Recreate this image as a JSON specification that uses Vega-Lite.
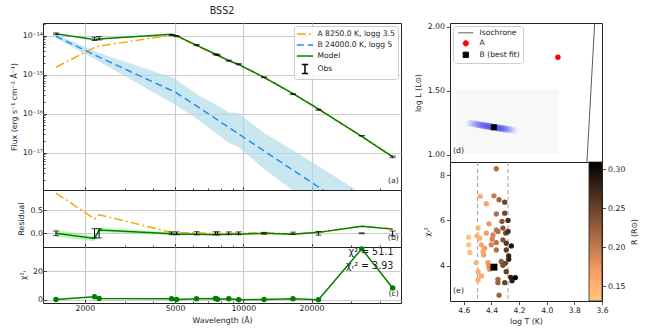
{
  "$schema": "https://vega.github.io/schema/vega-lite/v6.json",
  "padding": {"left": 9, "top": 5, "right": 0, "bottom": 0},
  "config": {
    "font": "DejaVu Sans",
    "view": {"stroke": "#222222", "strokeWidth": 1},
    "axis": {"labelFont": "DejaVu Sans", "titleFont": "DejaVu Sans", "labelFontSize": 7.8, "titleFontSize": 7.8, "titleFontWeight": "normal", "labelColor": "#222222", "titleColor": "#222222", "tickColor": "#222222", "tickWidth": 0.8, "domain": false, "grid": false, "labelOverlap": false, "labelFlush": false},
    "legend": {"labelFont": "DejaVu Sans", "titleFont": "DejaVu Sans", "labelColor": "#222222"},
    "text": {"font": "DejaVu Sans"},
    "title": {"font": "DejaVu Sans"}
  },
  "datasets": {
    "sed": [
      {"lam": 1491, "obs": 1.11e-14, "lo": 1.055e-14, "hi": 1.166e-14, "Model": 1.11e-14, "A": 1.54e-15, "B": 9.6e-15, "bLo": 8.6e-15, "bHi": 1.07e-14, "resM": 0.0, "resA": 0.87, "rLo": -0.05, "rHi": 0.05, "gLo": -0.07, "gHi": 0.07, "chi2": 0.3},
      {"lam": 2206, "obs": 8.3e-15, "lo": 7.47e-15, "hi": 9.13e-15, "Model": 7.9e-15, "A": 4.98e-15, "B": 3.2e-15, "bLo": 2.5e-15, "bHi": 4.0e-15, "resM": -0.11, "resA": 0.31, "rLo": -0.1, "rHi": 0.1, "gLo": -0.17, "gHi": -0.06, "chi2": 2.3},
      {"lam": 2312, "obs": 8.6e-15, "lo": 7.74e-15, "hi": 9.46e-15, "Model": 8.2e-15, "A": 5.35e-15, "B": 2.8e-15, "bLo": 2.15e-15, "bHi": 3.6e-15, "resM": 0.07, "resA": 0.40, "rLo": -0.1, "rHi": 0.1, "gLo": 0.02, "gHi": 0.12, "chi2": 1.1},
      {"lam": 4829, "obs": 1.03e-14, "lo": 9.99e-15, "hi": 1.061e-14, "Model": 1.08e-14, "A": 1.04e-14, "B": 3.9e-16, "bLo": 1.9e-16, "bHi": 8.5e-16, "resM": -0.01, "resA": 0.02, "rLo": -0.03, "rHi": 0.03, "gLo": -0.04, "gHi": 0.02, "chi2": 0.8},
      {"lam": 5080, "obs": 9.7e-15, "lo": 9.41e-15, "hi": 9.99e-15, "Model": 9.9e-15, "A": 9.55e-15, "B": 3.37e-16, "bLo": 1.6e-16, "bHi": 7.3e-16, "resM": -0.02, "resA": 0.01, "rLo": -0.03, "rHi": 0.03, "gLo": -0.04, "gHi": 0.0, "chi2": 0.3},
      {"lam": 6220, "obs": 5.7e-15, "lo": 5.5e-15, "hi": 5.9e-15, "Model": 5.66e-15, "A": 5.5e-15, "B": 1.58e-16, "bLo": 7.5e-17, "bHi": 3.2e-16, "resM": -0.02, "resA": 0.01, "rLo": -0.035, "rHi": 0.035, "gLo": -0.035, "gHi": -0.005, "chi2": 0.9},
      {"lam": 7540, "obs": 3.3e-15, "lo": 3.2e-15, "hi": 3.4e-15, "Model": 3.34e-15, "A": 3.27e-15, "B": 7.45e-17, "bLo": 3.2e-17, "bHi": 1.7e-16, "resM": -0.03, "resA": -0.01, "rLo": -0.03, "rHi": 0.03, "gLo": -0.04, "gHi": -0.02, "chi2": 1.0},
      {"lam": 7695, "obs": 3.2e-15, "lo": 3.1e-15, "hi": 3.3e-15, "Model": 3.16e-15, "A": 3.09e-15, "B": 6.9e-17, "bLo": 2.9e-17, "bHi": 1.6e-16, "resM": -0.03, "resA": -0.01, "rLo": -0.03, "rHi": 0.03, "gLo": -0.04, "gHi": -0.02, "chi2": 0.5},
      {"lam": 8630, "obs": 2.28e-15, "lo": 2.21e-15, "hi": 2.35e-15, "Model": 2.28e-15, "A": 2.24e-15, "B": 4.42e-17, "bLo": 1.8e-17, "bHi": 1.08e-16, "resM": -0.02, "resA": 0.0, "rLo": -0.03, "rHi": 0.03, "gLo": -0.03, "gHi": -0.01, "chi2": 0.9},
      {"lam": 9546, "obs": 1.85e-15, "lo": 1.79e-15, "hi": 1.91e-15, "Model": 1.82e-15, "A": 1.79e-15, "B": 3.0e-17, "bLo": 1.38e-17, "bHi": 1.0e-16, "resM": -0.02, "resA": 0.0, "rLo": -0.03, "rHi": 0.03, "gLo": -0.03, "gHi": -0.01, "chi2": 0.2},
      {"lam": 12350, "obs": 8.5e-16, "lo": 8.33e-16, "hi": 8.67e-16, "Model": 8.5e-16, "A": 8.39e-16, "B": 1.1e-17, "bLo": 3.8e-18, "bHi": 3.2e-17, "resM": 0.0, "resA": 0.01, "rLo": -0.02, "rHi": 0.02, "gLo": -0.01, "gHi": 0.01, "chi2": 0.3},
      {"lam": 16560, "obs": 3.16e-16, "lo": 3.08e-16, "hi": 3.24e-16, "Model": 3.27e-16, "A": 3.23e-16, "B": 3.57e-18, "bLo": 1.07e-18, "bHi": 1.15e-17, "resM": -0.02, "resA": -0.01, "rLo": -0.025, "rHi": 0.025, "gLo": -0.03, "gHi": -0.01, "chi2": 0.8},
      {"lam": 21470, "obs": 1.26e-16, "lo": 1.21e-16, "hi": 1.31e-16, "Model": 1.31e-16, "A": 1.30e-16, "B": 1.31e-18, "bLo": 4e-19, "bHi": 4.5e-18, "resM": 0.02, "resA": 0.02, "rLo": -0.04, "rHi": 0.04, "gLo": 0.01, "gHi": 0.03, "chi2": 0.1},
      {"lam": 33320, "obs": 2.7e-17, "lo": 2.67e-17, "hi": 2.73e-17, "Model": 2.6e-17, "A": 2.6e-17, "B": 2.4e-19, "bLo": 6e-20, "bHi": 9e-19, "resM": 0.15, "resA": 0.155, "rLo": -0.01, "rHi": 0.01, "gLo": 0.14, "gHi": 0.16, "chi2": 35.6},
      {"lam": 45620, "obs": 7.8e-18, "lo": 7.41e-18, "hi": 8.19e-18, "Model": 7.8e-18, "A": 7.8e-18, "B": 7.2e-20, "bLo": 1.5e-20, "bHi": 3e-19, "resM": 0.09, "resA": 0.095, "rLo": -0.05, "rHi": 0.05, "gLo": 0.08, "gHi": 0.1, "chi2": 8.3}
    ],
    "smear": [
      {"T": 4.560, "L": 1.248, "density": 0.15}, {"T": 4.545, "L": 1.246, "density": 0.25}, {"T": 4.530, "L": 1.243, "density": 0.35},
      {"T": 4.515, "L": 1.240, "density": 0.45}, {"T": 4.500, "L": 1.237, "density": 0.55}, {"T": 4.485, "L": 1.234, "density": 0.65},
      {"T": 4.470, "L": 1.231, "density": 0.72}, {"T": 4.455, "L": 1.228, "density": 0.8}, {"T": 4.440, "L": 1.226, "density": 0.85},
      {"T": 4.425, "L": 1.223, "density": 0.92}, {"T": 4.410, "L": 1.220, "density": 0.97}, {"T": 4.395, "L": 1.217, "density": 1.0},
      {"T": 4.380, "L": 1.215, "density": 1.0}, {"T": 4.365, "L": 1.212, "density": 0.97}, {"T": 4.350, "L": 1.209, "density": 0.93},
      {"T": 4.335, "L": 1.207, "density": 0.87}, {"T": 4.320, "L": 1.205, "density": 0.8}, {"T": 4.305, "L": 1.202, "density": 0.68},
      {"T": 4.290, "L": 1.199, "density": 0.55}, {"T": 4.275, "L": 1.197, "density": 0.42}, {"T": 4.260, "L": 1.195, "density": 0.3},
      {"T": 4.245, "L": 1.193, "density": 0.2}, {"T": 4.230, "L": 1.190, "density": 0.1}
    ],
    "mc": [
      {"T": 4.365, "chi": 8.29, "R": 0.21}, {"T": 4.481, "chi": 7.07, "R": 0.155}, {"T": 4.382, "chi": 7.09, "R": 0.20},
      {"T": 4.437, "chi": 6.74, "R": 0.165}, {"T": 4.345, "chi": 6.92, "R": 0.22}, {"T": 4.304, "chi": 6.81, "R": 0.25},
      {"T": 4.365, "chi": 6.29, "R": 0.21}, {"T": 4.304, "chi": 6.32, "R": 0.245}, {"T": 4.280, "chi": 6.00, "R": 0.27},
      {"T": 4.324, "chi": 5.96, "R": 0.235}, {"T": 4.497, "chi": 5.66, "R": 0.15}, {"T": 4.418, "chi": 5.85, "R": 0.175},
      {"T": 4.365, "chi": 5.58, "R": 0.20}, {"T": 4.317, "chi": 5.66, "R": 0.235}, {"T": 4.297, "chi": 5.44, "R": 0.25},
      {"T": 4.389, "chi": 5.36, "R": 0.19}, {"T": 4.437, "chi": 5.44, "R": 0.17}, {"T": 4.256, "chi": 4.87, "R": 0.29},
      {"T": 4.565, "chi": 5.26, "R": 0.135}, {"T": 4.565, "chi": 4.92, "R": 0.135}, {"T": 4.557, "chi": 4.58, "R": 0.14},
      {"T": 4.485, "chi": 5.21, "R": 0.155}, {"T": 4.473, "chi": 4.92, "R": 0.16}, {"T": 4.461, "chi": 4.62, "R": 0.165},
      {"T": 4.365, "chi": 5.02, "R": 0.205}, {"T": 4.365, "chi": 4.69, "R": 0.21}, {"T": 4.317, "chi": 5.14, "R": 0.235},
      {"T": 4.293, "chi": 4.69, "R": 0.255}, {"T": 4.275, "chi": 4.43, "R": 0.275}, {"T": 4.510, "chi": 4.13, "R": 0.15},
      {"T": 4.425, "chi": 4.13, "R": 0.175}, {"T": 4.497, "chi": 3.73, "R": 0.155}, {"T": 4.473, "chi": 3.54, "R": 0.16},
      {"T": 4.418, "chi": 3.96, "R": 0.18}, {"T": 4.329, "chi": 4.18, "R": 0.225}, {"T": 4.300, "chi": 4.10, "R": 0.245},
      {"T": 4.275, "chi": 4.28, "R": 0.28}, {"T": 4.293, "chi": 3.73, "R": 0.255}, {"T": 4.497, "chi": 3.36, "R": 0.155},
      {"T": 4.353, "chi": 3.39, "R": 0.215}, {"T": 4.353, "chi": 3.24, "R": 0.22}, {"T": 4.304, "chi": 3.24, "R": 0.25},
      {"T": 4.261, "chi": 3.48, "R": 0.28}, {"T": 4.251, "chi": 3.33, "R": 0.285}, {"T": 4.227, "chi": 3.47, "R": 0.305},
      {"T": 4.345, "chi": 2.69, "R": 0.22}, {"T": 4.401, "chi": 4.92, "R": 0.19}, {"T": 4.505, "chi": 5.32, "R": 0.15},
      {"T": 4.449, "chi": 4.77, "R": 0.17}, {"T": 4.293, "chi": 4.99, "R": 0.26}, {"T": 4.280, "chi": 5.51, "R": 0.27},
      {"T": 4.394, "chi": 5.17, "R": 0.19}, {"T": 4.353, "chi": 5.51, "R": 0.21}, {"T": 4.413, "chi": 3.84, "R": 0.18},
      {"T": 4.317, "chi": 4.01, "R": 0.24}, {"T": 4.456, "chi": 4.47, "R": 0.165}
    ]
  },
  "spacing": 11,
  "resolve": {
    "scale": {"color": "independent", "shape": "independent", "strokeDash": "independent", "opacity": "independent"},
    "legend": {"color": "independent", "shape": "independent", "strokeDash": "independent", "opacity": "independent"}
  },
  "hconcat": [
    {
      "spacing": 0,
      "bounds": "flush",
      "resolve": {
        "scale": {"color": "independent", "shape": "independent", "strokeDash": "independent", "opacity": "independent"},
        "legend": {"color": "independent", "shape": "independent", "strokeDash": "independent", "opacity": "independent"}
      },
      "vconcat": [
        {
          "width": 358,
          "height": 167,
          "title": {"text": "BSS2", "fontSize": 9.6, "fontWeight": "normal", "offset": 4, "color": "#222222"},
          "layer": [
            {
              "data": {"name": "sed"},
              "mark": {"type": "area", "color": "#add8e6", "opacity": 0.65, "clip": true},
              "encoding": {
                "x": {"field": "lam", "type": "quantitative", "scale": {"type": "log", "domain": [1307, 49650], "nice": false},
                  "axis": {"orient": "bottom", "values": [2000, 3000, 4000, 5000, 6000, 7000, 8000, 9000, 10000, 20000, 30000, 40000], "labels": false, "title": null, "grid": true, "gridColor": "#cccccc", "gridWidth": 1.2,
                    "gridOpacity": {"condition": {"test": "indexof([2000,5000,10000,20000], datum.value) >= 0", "value": 1}, "value": 0},
                    "tickSize": {"condition": {"test": "indexof([2000,5000,10000,20000], datum.value) >= 0", "value": -3.5}, "value": -2}}},
                "y": {"field": "bLo", "type": "quantitative", "scale": {"type": "log", "domain": [1.1e-18, 2.1e-14], "nice": false},
                  "axis": {"title": "Flux (erg s⁻¹ cm⁻² Å⁻¹)", "titlePadding": 4, "labelPadding": 4,
                    "values": [2e-18, 3e-18, 4e-18, 5e-18, 6e-18, 7e-18, 8e-18, 9e-18, 1e-17, 2e-17, 3e-17, 4e-17, 5e-17, 6e-17, 7e-17, 8e-17, 9e-17, 1e-16, 2e-16, 3e-16, 4e-16, 5e-16, 6e-16, 7e-16, 8e-16, 9e-16, 1e-15, 2e-15, 3e-15, 4e-15, 5e-15, 6e-15, 7e-15, 8e-15, 9e-15, 1e-14, 2e-14],
                    "labelExpr": "abs(log(datum.value)/LN10-round(log(datum.value)/LN10))<0.01 ? (round(log(datum.value)/LN10)==-14 ? '10⁻¹⁴' : round(log(datum.value)/LN10)==-15 ? '10⁻¹⁵' : round(log(datum.value)/LN10)==-16 ? '10⁻¹⁶' : round(log(datum.value)/LN10)==-17 ? '10⁻¹⁷' : '') : ''",
                    "grid": true, "gridColor": "#cccccc", "gridWidth": 1.2,
                    "gridOpacity": {"condition": {"test": "abs(log(datum.value)/LN10-round(log(datum.value)/LN10))<0.01", "value": 1}, "value": 0},
                    "tickSize": {"condition": {"test": "abs(log(datum.value)/LN10-round(log(datum.value)/LN10))<0.01", "value": -3.5}, "value": -2}}},
                "y2": {"field": "bHi"}
              }
            },
            {
              "data": {"name": "sed"},
              "transform": [{"fold": ["A", "B", "Model"], "as": ["series", "flux"]}],
              "mark": {"type": "line", "strokeWidth": 1.5, "clip": true},
              "encoding": {
                "x": {"field": "lam", "type": "quantitative"},
                "y": {"field": "flux", "type": "quantitative"},
                "color": {"field": "series", "type": "nominal",
                  "scale": {"domain": ["A", "B", "Model", "Obs"], "range": ["#ffa500", "#1e90ff", "#008000", "#000000"]},
                  "legend": {"title": null, "orient": "top-right", "offset": 3, "padding": 2.5, "fillColor": "rgba(255,255,255,0.85)", "strokeColor": "#cccccc", "cornerRadius": 3,
                    "labelFontSize": 7.6, "symbolSize": 81, "symbolStrokeWidth": 1.5, "rowPadding": 1, "labelOffset": 7, "symbolOffset": 3,
                    "labelExpr": "datum.label == 'A' ? 'A 8250.0 K, logg 3.5' : datum.label == 'B' ? 'B 24000.0 K, logg 5' : datum.label",
                    "encode": {"symbols": {"update": {"shape": {"signal": "datum.value === 'Obs' ? 'M-0.7,-1H0.7M0,-1V1M-0.7,1H0.7' : 'M-1.8,0H1.8'"}, "fill": {"value": "transparent"}}}}}
                },
                "strokeDash": {"field": "series", "type": "nominal",
                  "scale": {"domain": ["A", "B", "Model", "Obs"], "range": [[9, 3, 2, 3], [7, 4], [1, 0], [1, 0]]},
                  "legend": {"title": null, "orient": "top-right", "offset": 3, "padding": 2.5, "fillColor": "rgba(255,255,255,0.85)", "strokeColor": "#cccccc", "cornerRadius": 3,
                    "labelFontSize": 7.6, "symbolSize": 81, "symbolStrokeWidth": 1.5, "rowPadding": 1, "labelOffset": 7, "symbolOffset": 3,
                    "labelExpr": "datum.label == 'A' ? 'A 8250.0 K, logg 3.5' : datum.label == 'B' ? 'B 24000.0 K, logg 5' : datum.label",
                    "encode": {"symbols": {"update": {"shape": {"signal": "datum.value === 'Obs' ? 'M-0.7,-1H0.7M0,-1V1M-0.7,1H0.7' : 'M-1.8,0H1.8'"}, "fill": {"value": "transparent"}}}}}
                }
              }
            },
            {
              "data": {"name": "sed"},
              "mark": {"type": "rule", "color": "#000000", "strokeWidth": 1},
              "encoding": {"x": {"field": "lam", "type": "quantitative"}, "y": {"field": "lo", "type": "quantitative"}, "y2": {"field": "hi"}}
            },
            {
              "data": {"name": "sed"},
              "mark": {"type": "tick", "orient": "horizontal", "color": "#000000", "size": 6, "thickness": 1},
              "encoding": {"x": {"field": "lam", "type": "quantitative"}, "y": {"field": "lo", "type": "quantitative"}}
            },
            {
              "data": {"name": "sed"},
              "mark": {"type": "tick", "orient": "horizontal", "color": "#000000", "size": 6, "thickness": 1},
              "encoding": {"x": {"field": "lam", "type": "quantitative"}, "y": {"field": "hi", "type": "quantitative"}}
            },
            {
              "data": {"values": [{"lam": 48600, "f": 1.84e-18, "t": "(a)"}]},
              "mark": {"type": "text", "align": "right", "baseline": "middle", "fontSize": 7.8, "color": "#222222"},
              "encoding": {"x": {"field": "lam", "type": "quantitative"}, "y": {"field": "f", "type": "quantitative"}, "text": {"field": "t"}}
            }
          ]
        },
        {
          "width": 358,
          "height": 57,
          "layer": [
            {
              "data": {"name": "sed"},
              "mark": {"type": "area", "color": "#90ee90", "opacity": 0.6},
              "encoding": {
                "x": {"field": "lam", "type": "quantitative", "scale": {"type": "log", "domain": [1307, 49650], "nice": false},
                  "axis": {"orient": "bottom", "values": [2000, 3000, 4000, 5000, 6000, 7000, 8000, 9000, 10000, 20000, 30000, 40000], "labels": false, "title": null, "grid": true, "gridColor": "#cccccc", "gridWidth": 1.2,
                    "gridOpacity": {"condition": {"test": "indexof([2000,5000,10000,20000], datum.value) >= 0", "value": 1}, "value": 0},
                    "tickSize": {"condition": {"test": "indexof([2000,5000,10000,20000], datum.value) >= 0", "value": -3.5}, "value": -2}}},
                "y": {"field": "gLo", "type": "quantitative", "scale": {"domain": [-0.296, 0.935], "nice": false, "zero": false},
                  "axis": {"values": [0, 0.5], "format": ".1f", "title": "Residual", "grid": true, "gridColor": "#cccccc", "gridWidth": 1.2, "tickSize": -3.5, "labelPadding": 4, "titlePadding": 5}},
                "y2": {"field": "gHi"}
              }
            },
            {
              "data": {"name": "sed"},
              "mark": {"type": "line", "color": "#ffa500", "strokeWidth": 1.5, "strokeDash": [9, 3, 2, 3]},
              "encoding": {"x": {"field": "lam", "type": "quantitative"}, "y": {"field": "resA", "type": "quantitative"}}
            },
            {
              "data": {"name": "sed"},
              "mark": {"type": "line", "color": "#008000", "strokeWidth": 1.5},
              "encoding": {"x": {"field": "lam", "type": "quantitative"}, "y": {"field": "resM", "type": "quantitative"}}
            },
            {
              "data": {"name": "sed"},
              "mark": {"type": "rule", "color": "#000000", "strokeWidth": 1},
              "encoding": {"x": {"field": "lam", "type": "quantitative"}, "y": {"field": "rLo", "type": "quantitative"}, "y2": {"field": "rHi"}}
            },
            {
              "data": {"name": "sed"},
              "mark": {"type": "tick", "orient": "horizontal", "color": "#000000", "size": 6, "thickness": 1},
              "encoding": {"x": {"field": "lam", "type": "quantitative"}, "y": {"field": "rLo", "type": "quantitative"}}
            },
            {
              "data": {"name": "sed"},
              "mark": {"type": "tick", "orient": "horizontal", "color": "#000000", "size": 6, "thickness": 1},
              "encoding": {"x": {"field": "lam", "type": "quantitative"}, "y": {"field": "rHi", "type": "quantitative"}}
            },
            {
              "data": {"values": [{"lam": 48600, "v": -0.1, "t": "(b)"}]},
              "mark": {"type": "text", "align": "right", "baseline": "middle", "fontSize": 7.8, "color": "#222222"},
              "encoding": {"x": {"field": "lam", "type": "quantitative"}, "y": {"field": "v", "type": "quantitative"}, "text": {"field": "t"}}
            }
          ]
        },
        {
          "width": 358,
          "height": 56,
          "layer": [
            {
              "data": {"name": "sed"},
              "mark": {"type": "line", "color": "#008000", "strokeWidth": 1.5},
              "encoding": {
                "x": {"field": "lam", "type": "quantitative", "scale": {"type": "log", "domain": [1307, 49650], "nice": false},
                  "axis": {"orient": "bottom", "values": [2000, 3000, 4000, 5000, 6000, 7000, 8000, 9000, 10000, 20000, 30000, 40000], "title": "Wavelength (Å)", "titlePadding": 3, "labelPadding": 5,
                    "labelExpr": "indexof([2000,5000,10000,20000], datum.value) >= 0 ? format(datum.value, 'd') : ''",
                    "grid": true, "gridColor": "#cccccc", "gridWidth": 1.2,
                    "gridOpacity": {"condition": {"test": "indexof([2000,5000,10000,20000], datum.value) >= 0", "value": 1}, "value": 0},
                    "tickSize": {"condition": {"test": "indexof([2000,5000,10000,20000], datum.value) >= 0", "value": -3.5}, "value": -2}}},
                "y": {"field": "chi2", "type": "quantitative", "scale": {"domain": [-2.1, 36.9], "nice": false, "zero": false},
                  "axis": {"values": [0, 20], "title": "χ²ᵢ", "grid": true, "gridColor": "#cccccc", "gridWidth": 1.2, "tickSize": -3.5, "labelPadding": 4, "titlePadding": 5}}
              }
            },
            {
              "data": {"name": "sed"},
              "mark": {"type": "circle", "color": "#008000", "size": 30, "opacity": 1},
              "encoding": {"x": {"field": "lam", "type": "quantitative"}, "y": {"field": "chi2", "type": "quantitative"}}
            },
            {
              "data": {"values": [{"lam": 46000, "v": 33.3, "t": "χ² = 51.1"}, {"lam": 46000, "v": 23.7, "t": "χᵣ² = 3.93"}, {"lam": 48600, "v": 4.1, "t": "(c)"}]},
              "mark": {"type": "text", "align": "right", "baseline": "middle", "color": "#222222"},
              "encoding": {"x": {"field": "lam", "type": "quantitative"}, "y": {"field": "v", "type": "quantitative"}, "text": {"field": "t"},
                "size": {"condition": {"test": "datum.t == '(c)'", "value": 7.8}, "value": 9.6}}
            }
          ]
        }
      ]
    },
    {
      "spacing": 0,
      "bounds": "flush",
      "resolve": {
        "scale": {"x": "independent", "color": "independent", "shape": "independent", "strokeDash": "independent", "opacity": "independent"},
        "axis": {"x": "independent"},
        "legend": {"color": "independent", "shape": "independent", "strokeDash": "independent", "opacity": "independent"}
      },
      "vconcat": [
        {
          "width": 152,
          "height": 139,
          "title": {"text": " ", "fontSize": 9.6, "fontWeight": "normal", "offset": 4},
          "layer": [
            {
              "data": {"values": [{"T1": 4.66, "T2": 3.91, "L1": 1.0, "L2": 1.51}]},
              "mark": {"type": "rect", "color": "#f8f8f8"},
              "encoding": {
                "x": {"field": "T1", "type": "quantitative", "scale": {"domain": [3.6, 4.7], "reverse": true, "nice": false, "zero": false}, "axis": null},
                "x2": {"field": "T2"},
                "y": {"field": "L1", "type": "quantitative", "scale": {"domain": [0.943, 2.031], "nice": false, "zero": false},
                  "axis": {"values": [1.0, 1.25, 1.5, 1.75, 2.0], "format": ".2f", "title": "log L (L⊙)", "tickSize": 3.5, "labelPadding": 2, "titlePadding": 5, "labelOverlap": false}},
                "y2": {"field": "L2"}
              }
            },
            {
              "data": {"name": "smear"},
              "mark": {"type": "circle", "color": "#1212ee", "size": 50},
              "encoding": {
                "x": {"field": "T", "type": "quantitative"},
                "y": {"field": "L", "type": "quantitative"},
                "opacity": {"field": "density", "type": "quantitative", "scale": {"domain": [0, 1], "range": [0, 0.33]}, "legend": null}
              }
            },
            {
              "data": {"values": [{"T": 3.6494, "L": 2.1, "kind": "Isochrone"}, {"T": 3.7112, "L": 0.9, "kind": "Isochrone"}]},
              "mark": {"type": "line", "strokeWidth": 0.9, "clip": true},
              "encoding": {
                "x": {"field": "T", "type": "quantitative"},
                "y": {"field": "L", "type": "quantitative"},
                "color": {"field": "kind", "type": "nominal", "scale": {"domain": ["Isochrone", "A", "B (best fit)"], "range": ["#444444", "#ff0000", "#000000"]},
                  "legend": {"title": null, "orient": "top-left", "offset": 3, "padding": 3, "fillColor": "rgba(255,255,255,0.85)", "strokeColor": "#cccccc", "cornerRadius": 3, "labelFontSize": 7.6, "symbolSize": 28, "rowPadding": 1.5, "labelOffset": 10, "symbolOffset": 6,
                    "encode": {"symbols": {"update": {"shape": {"signal": "datum.value === 'Isochrone' ? 'M-2.8,0H2.8' : datum.value === 'A' ? 'circle' : 'square'"}, "stroke": {"signal": "datum.value === 'Isochrone' ? '#444444' : 'transparent'"}, "strokeWidth": {"value": 1}, "strokeDash": {"value": [1, 0]}, "fill": {"signal": "datum.value === 'Isochrone' ? 'transparent' : datum.value === 'A' ? '#ff0000' : '#000000'"}, "opacity": {"value": 1}}}}}
                }
              }
            },
            {
              "data": {"values": [{"T": 3.919, "L": 1.763}]},
              "mark": {"type": "circle", "size": 30, "opacity": 1, "color": "#ff0000"},
              "encoding": {"x": {"field": "T", "type": "quantitative"}, "y": {"field": "L", "type": "quantitative"}}
            },
            {
              "data": {"values": [{"T": 4.382, "L": 1.215}]},
              "mark": {"type": "square", "size": 34, "opacity": 1, "color": "#000000"},
              "encoding": {"x": {"field": "T", "type": "quantitative"}, "y": {"field": "L", "type": "quantitative"}}
            },
            {
              "data": {"values": [{"T": 4.678, "L": 1.027, "t": "(d)"}]},
              "mark": {"type": "text", "align": "left", "baseline": "middle", "fontSize": 7.8, "color": "#222222"},
              "encoding": {"x": {"field": "T", "type": "quantitative"}, "y": {"field": "L", "type": "quantitative"}, "text": {"field": "t"}}
            }
          ]
        },
        {
          "width": 152,
          "height": 139,
          "resolve": {"scale": {"y": "independent"}, "axis": {"y": "independent"}},
          "layer": [
            {
              "layer": [
                {
                  "data": {"values": [{"T": 4.5}, {"T": 4.28}]},
                  "mark": {"type": "rule", "color": "#a0a0a0", "strokeDash": [4, 3], "strokeWidth": 1},
                  "encoding": {
                    "x": {"field": "T", "type": "quantitative", "scale": {"domain": [3.6, 4.7], "reverse": true, "nice": false, "zero": false},
                      "axis": {"tickCount": 6, "format": ".1f", "title": "log T (K)", "tickSize": 3.5, "labelPadding": 2, "titlePadding": 3, "labelOverlap": false, "labelSeparation": 0, "labelFlush": false, "labelBound": false, "labelFontSize": 7.6}}
                  }
                },
                {
                  "data": {"name": "mc"},
                  "mark": {"type": "circle", "size": 28, "opacity": 1},
                  "encoding": {
                    "x": {"field": "T", "type": "quantitative"},
                    "y": {"field": "chi", "type": "quantitative", "scale": {"domain": [2.43, 8.59], "nice": false, "zero": false},
                      "axis": {"values": [4, 6, 8], "title": "χᵣ²", "tickSize": 3.5, "labelPadding": 2, "titlePadding": 8, "labelOverlap": false}},
                    "color": {"field": "R", "type": "quantitative", "scale": {"domain": [0.131, 0.1666, 0.309], "range": ["#ffc77f", "#ff9f65", "#000000"], "interpolate": "rgb"},
                      "legend": {"orient": "none", "legendX": 139, "legendY": 0, "direction": "vertical", "gradientLength": 139, "gradientThickness": 13, "title": null, "labelExpr": "''", "gradientStrokeColor": "#222222", "gradientStrokeWidth": 0.8, "padding": 0}
                    }
                  }
                },
                {
                  "data": {"values": [{"T": 4.382, "chi": 3.93}]},
                  "mark": {"type": "square", "color": "#000000", "size": 48, "opacity": 1},
                  "encoding": {"x": {"field": "T", "type": "quantitative"}, "y": {"field": "chi", "type": "quantitative"}}
                },
                {
                  "data": {"values": [{"T": 4.678, "chi": 2.87, "t": "(e)"}]},
                  "mark": {"type": "text", "align": "left", "baseline": "middle", "fontSize": 7.8, "color": "#222222"},
                  "encoding": {"x": {"field": "T", "type": "quantitative"}, "y": {"field": "chi", "type": "quantitative"}, "text": {"field": "t"}}
                }
              ]
            },
            {
              "data": {"name": "mc"},
              "mark": {"type": "point", "opacity": 0},
              "encoding": {
                "x": {"field": "T", "type": "quantitative"},
                "y": {"field": "R", "type": "quantitative", "scale": {"domain": [0.131, 0.309], "nice": false, "zero": false},
                  "axis": {"orient": "right", "values": [0.15, 0.2, 0.25, 0.3], "format": ".2f", "title": "R (R⊙)", "tickSize": 3.5, "labelPadding": 2, "titlePadding": 6, "titleAngle": 270, "titleBaseline": "top", "labelOverlap": false}}
              }
            }
          ]
        }
      ]
    }
  ]
}
